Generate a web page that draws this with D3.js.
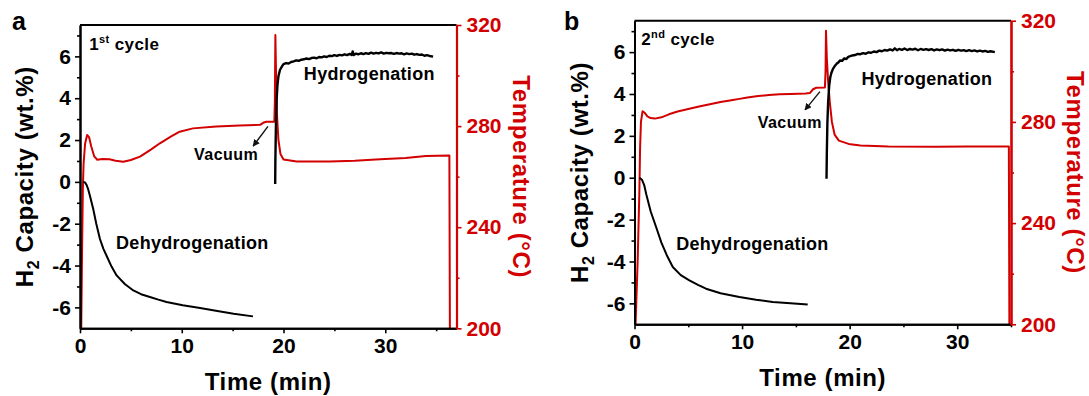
<!DOCTYPE html>
<html>
<head>
<meta charset="utf-8">
<script src="https://cdn.jsdelivr.net/npm/d3@7"></script>
<style>
  body { margin: 0; background: #fff; }
  svg { display: block; font-family: "Liberation Sans", Arial, sans-serif; font-weight: bold; }
</style>
</head>
<body>
<svg id="chart" width="1089" height="396"></svg>
<script>
// ---- data: cycle 1 (time in min, H2 capacity in wt.%, temperature in °C) ----
const cycle1Dehyd = [[0.3,0],[0.5,-0.03],[0.65,-0.15],[0.8,-0.35],[0.98,-0.67],[1.3,-1.3],[1.6,-2.0],[1.96,-2.73],[2.3,-3.2],[2.6,-3.52],[3.1,-4.05],[3.6,-4.47],[4.4,-4.88],[5.24,-5.19],[6.0,-5.37],[6.87,-5.5],[7.7,-5.63],[8.5,-5.74],[10.1,-5.9],[11.8,-6.03],[13.5,-6.17],[15.1,-6.3],[17.0,-6.43]];
const cycle1Hyd = [[19.18,-0.1],[19.2,1.0],[19.25,2.6],[19.32,3.9],[19.4,4.6],[19.5,5.05],[19.65,5.35],[19.85,5.52],[20.0,5.63],[20.25,5.68],[20.5,5.66],[20.75,5.73],[21.0,5.76],[21.25,5.81],[21.5,5.79],[21.75,5.84],[22.0,5.86],[22.25,5.9],[22.5,5.87],[22.75,5.92],[23.0,5.94],[23.25,5.91],[23.5,5.97],[23.75,5.95],[24.0,6.0],[24.25,5.97],[24.5,6.03],[24.75,6.01],[25.0,6.06],[25.25,6.02],[25.5,6.07],[25.75,6.05],[26.0,6.1],[26.25,6.06],[26.5,6.12],[26.7,6.07],[26.8,6.24],[26.9,6.06],[27.1,6.13],[27.35,6.1],[27.6,6.15],[27.85,6.11],[28.1,6.16],[28.35,6.12],[28.6,6.18],[28.85,6.13],[29.1,6.17],[29.35,6.14],[29.6,6.19],[29.85,6.13],[30.1,6.17],[30.35,6.15],[30.6,6.16],[30.85,6.12],[31.1,6.16],[31.35,6.13],[31.6,6.15],[31.85,6.1],[32.1,6.14],[32.35,6.11],[32.6,6.13],[32.85,6.08],[33.1,6.11],[33.35,6.07],[33.6,6.09],[33.85,6.03],[34.1,6.06],[34.35,6.02],[34.7,5.99]];
const cycle1Temp = [[0.12,200],[0.2,230],[0.28,255],[0.35,265],[0.5,273],[0.7,276.5],[0.9,275.5],[1.1,272],[1.4,268],[1.7,266.7],[2.2,267],[2.9,266.9],[3.5,266.3],[4.25,265.9],[5.0,266.6],[5.9,267.9],[7.0,270.8],[7.85,273.2],[9.0,276],[9.8,277.8],[11.1,279.1],[13.4,279.8],[15.7,280.2],[17.7,280.5],[18.0,281.3],[18.3,281.7],[19.1,281.7],[19.15,290],[19.2,316],[19.27,300],[19.35,285],[19.5,274.5],[19.7,269],[20.0,266.8],[21.3,266],[24.5,266],[27.0,266.3],[29.5,266.9],[32.0,267.4],[34.0,268.2],[36.3,268.4],[36.35,200]];

// ---- data: cycle 2 ----
const cycle2Dehyd = [[0.45,0],[0.7,-0.1],[0.9,-0.35],[1.1,-0.8],[1.5,-1.6],[2.0,-2.34],[2.5,-3.1],[3.0,-3.7],[3.56,-4.26],[4.3,-4.65],[5.1,-4.9],[5.9,-5.12],[6.65,-5.3],[8.0,-5.52],[9.75,-5.7],[11.3,-5.83],[12.85,-5.93],[14.5,-6.0],[16.1,-6.05]];
const cycle2Hyd = [[17.85,-0.05],[17.88,1.2],[17.93,2.6],[18.0,3.6],[18.1,4.4],[18.2,4.8],[18.3,5.0],[18.45,5.2],[18.6,5.32],[18.8,5.45],[18.95,5.5],[19.1,5.6],[19.3,5.58],[19.5,5.7],[19.7,5.67],[19.85,5.76],[20.0,5.8],[20.25,5.84],[20.5,5.86],[20.75,5.91],[21.0,5.9],[21.25,5.95],[21.5,5.92],[21.75,5.99],[22.0,5.97],[22.25,6.03],[22.5,6.0],[22.75,6.07],[23.0,6.04],[23.25,6.1],[23.5,6.07],[23.75,6.13],[24.0,6.08],[24.2,6.18],[24.4,6.09],[24.6,6.15],[24.85,6.11],[25.1,6.17],[25.35,6.1],[25.6,6.15],[25.85,6.12],[26.1,6.16],[26.35,6.09],[26.6,6.15],[26.85,6.11],[27.1,6.14],[27.35,6.1],[27.6,6.14],[27.85,6.08],[28.1,6.13],[28.35,6.09],[28.6,6.13],[28.85,6.07],[29.1,6.12],[29.35,6.08],[29.6,6.11],[29.85,6.06],[30.1,6.11],[30.35,6.07],[30.6,6.09],[30.85,6.05],[31.1,6.09],[31.35,6.05],[31.6,6.08],[31.85,6.03],[32.1,6.07],[32.35,6.03],[32.6,6.06],[32.85,6.01],[33.1,6.04],[33.5,6.0]];
const cycle2Temp = [[0.1,200],[0.3,226],[0.45,252],[0.52,270],[0.6,280],[0.75,284.2],[0.95,283.6],[1.2,282.2],[1.5,281.5],[1.9,281.3],[2.5,281.8],[3.2,283],[4.0,284.1],[5.0,285.1],[6.0,286.1],[7.0,287],[8.0,287.9],[9.0,288.6],[9.75,289.1],[10.5,289.6],[11.5,290.2],[12.5,290.6],[13.5,290.9],[14.5,291],[15.9,291.2],[16.3,291.4],[16.6,292.9],[16.9,293.5],[17.7,293.6],[17.76,300],[17.8,316],[17.88,305],[18.0,296],[18.15,288],[18.35,280],[18.6,275],[19.0,272.6],[19.9,271.3],[21.0,270.7],[23.6,270.3],[28.0,270.2],[31.0,270.3],[34.8,270.3],[34.85,200]];

// ---- axis ticks ----
const timeTicks = [0, 10, 20, 30];
const timeMinor = [5, 15, 25, 35];
const capTicks = [-6, -4, -2, 0, 2, 4, 6];
const capMinor = [-5, -3, -1, 1, 3, 5, 7];
const tempTicks = [200, 240, 280, 320];
const tempMinor = [220, 260, 300];
const capDomain = [-7, 7.5];
const tempDomain = [200, 320];

const RED = "#d20000";
const svg = d3.select("#chart");

const defs = svg.append("defs");
defs.append("marker")
  .attr("id", "arrowHead")
  .attr("viewBox", "0 0 10 10")
  .attr("refX", 9).attr("refY", 5)
  .attr("markerWidth", 5).attr("markerHeight", 5)
  .attr("markerUnits", "strokeWidth")
  .attr("orient", "auto")
  .append("path").attr("d", "M0,0 L10,5 L0,10 z").attr("fill", "#111");

const panels = [
  { letter: "a", ordinal: "st", cycleNum: "1", tMax: 37, left: 80, right: 456.5, top: 25, bottom: 328.3,
    dehyd: cycle1Dehyd, hyd: cycle1Hyd, temp: cycle1Temp,
    cycleAt: [0.9, 6.29], dehydAt: [3.54, -3.2], hydAt: [22.0, 4.89], vacAt: [11.2, 1.03],
    arrowFrom: [18.47, 2.65], arrowTo: [17.02, 1.71], letterX: 12 },
  { letter: "b", ordinal: "nd", cycleNum: "2", tMax: 35, left: 634.5, right: 1011, top: 20.7, bottom: 324.3,
    dehyd: cycle2Dehyd, hyd: cycle2Hyd, temp: cycle2Temp,
    cycleAt: [0.62, 6.32], dehydAt: [3.87, -3.43], hydAt: [21.1, 4.43], vacAt: [11.45, 2.38],
    arrowFrom: [17.24, 4.11], arrowTo: [15.85, 3.24], letterX: 564 }
];

const hyphen = d => (d < 0 ? "-" + Math.abs(d) : String(d));

function styleAxis(sel, color, width) {
  sel.select(".domain").attr("stroke", color).attr("stroke-width", width);
  sel.selectAll(".tick line").attr("stroke", color).attr("stroke-width", 1.6);
  sel.selectAll(".tick text").attr("fill", color).attr("font-size", 21)
    .attr("font-family", '"Liberation Sans", Arial, sans-serif').attr("font-weight", "bold");
}

panels.forEach(p => {
  const g = svg.append("g");
  const x = d3.scaleLinear().domain([0, p.tMax]).range([p.left, p.right]);
  const yL = d3.scaleLinear().domain(capDomain).range([p.bottom, p.top]);
  const yR = d3.scaleLinear().domain(tempDomain).range([p.bottom, p.top]);

  const capLine = d3.line().x(d => x(d[0])).y(d => yL(d[1]));
  const tempLine = d3.line().x(d => x(d[0])).y(d => yR(d[1]));

  // temperature trace (right axis)
  g.append("path").datum(p.temp).attr("d", tempLine)
    .attr("fill", "none").attr("stroke", RED).attr("stroke-width", 2).attr("stroke-linejoin", "round");
  // hydrogen capacity traces (left axis)
  g.append("path").datum(p.dehyd).attr("d", capLine)
    .attr("fill", "none").attr("stroke", "#000").attr("stroke-width", 2).attr("stroke-linejoin", "round");
  g.append("path").datum(p.hyd).attr("d", capLine)
    .attr("fill", "none").attr("stroke", "#000").attr("stroke-width", 2.4).attr("stroke-linejoin", "round");

  // frame top
  g.append("line").attr("x1", p.left).attr("x2", p.right).attr("y1", p.top).attr("y2", p.top)
    .attr("stroke", "#000").attr("stroke-width", 2);

  // bottom axis
  const xMin = g.append("g").attr("transform", `translate(0,${p.bottom})`)
    .call(d3.axisBottom(x).tickValues(timeMinor.filter(v => v <= p.tMax)).tickSize(3).tickSizeOuter(0).tickFormat(""));
  styleAxis(xMin, "#000", 2);
  const xAx = g.append("g").attr("transform", `translate(0,${p.bottom})`)
    .call(d3.axisBottom(x).tickValues(timeTicks).tickSize(5).tickSizeOuter(0).tickPadding(5).tickFormat(d3.format("d")));
  styleAxis(xAx, "#000", 2);

  // left axis
  const yMin = g.append("g").attr("transform", `translate(${p.left},0)`)
    .call(d3.axisLeft(yL).tickValues(capMinor).tickSize(3).tickSizeOuter(0).tickFormat(""));
  styleAxis(yMin, "#000", 2);
  const yAx = g.append("g").attr("transform", `translate(${p.left},0)`)
    .call(d3.axisLeft(yL).tickValues(capTicks).tickSize(5).tickSizeOuter(0).tickPadding(4).tickFormat(hyphen));
  styleAxis(yAx, "#000", 2);

  // right axis
  const rMin = g.append("g").attr("transform", `translate(${p.right},0)`)
    .call(d3.axisRight(yR).tickValues(tempMinor).tickSize(3).tickSizeOuter(0).tickFormat(""));
  styleAxis(rMin, RED, 2);
  const rAx = g.append("g").attr("transform", `translate(${p.right},0)`)
    .call(d3.axisRight(yR).tickValues(tempTicks).tickSize(5).tickSizeOuter(0).tickPadding(5).tickFormat(d3.format("d")));
  styleAxis(rAx, RED, 2.2);

  const midY = (p.top + p.bottom) / 2;
  const midX = (p.left + p.right) / 2;

  // axis titles
  g.append("text").attr("x", midX).attr("y", p.bottom + 62)
    .attr("text-anchor", "middle").attr("font-size", 24).attr("letter-spacing", 0.6)
    .text("Time (min)");

  const lt = g.append("text").attr("transform", `translate(${p.left - 47},${midY}) rotate(-90)`)
    .attr("text-anchor", "middle").attr("font-size", 24).attr("letter-spacing", 0.6);
  lt.append("tspan").text("H");
  lt.append("tspan").attr("font-size", 16).attr("dy", 6).text("2");
  lt.append("tspan").attr("dy", -6).text(" Capacity (wt.%)");

  g.append("text").attr("transform", `translate(${p.right + 56},${midY}) rotate(90)`)
    .attr("text-anchor", "middle").attr("font-size", 24).attr("letter-spacing", 0.6).attr("fill", RED)
    .text("Temperature (°C)");

  // panel letter
  svg.append("text").attr("x", p.letterX).attr("y", 30).attr("font-size", 25).text(p.letter);

  // annotations
  const ct = g.append("text").attr("x", x(p.cycleAt[0])).attr("y", yL(p.cycleAt[1]))
    .attr("font-size", 17).attr("letter-spacing", 0.4);
  ct.append("tspan").text(p.cycleNum);
  ct.append("tspan").attr("font-size", 11).attr("dy", -7).text(p.ordinal);
  ct.append("tspan").attr("dy", 7).text(" cycle");

  g.append("text").attr("x", x(p.dehydAt[0])).attr("y", yL(p.dehydAt[1]))
    .attr("font-size", 18).attr("letter-spacing", 0.3).text("Dehydrogenation");
  g.append("text").attr("x", x(p.hydAt[0])).attr("y", yL(p.hydAt[1]))
    .attr("font-size", 18).attr("letter-spacing", 0.3).text("Hydrogenation");
  g.append("text").attr("x", x(p.vacAt[0])).attr("y", yL(p.vacAt[1]))
    .attr("font-size", 16).attr("letter-spacing", 0.5).text("Vacuum");

  g.append("line")
    .attr("x1", x(p.arrowFrom[0])).attr("y1", yL(p.arrowFrom[1]))
    .attr("x2", x(p.arrowTo[0])).attr("y2", yL(p.arrowTo[1]))
    .attr("stroke", "#111").attr("stroke-width", 1.4)
    .attr("marker-end", "url(#arrowHead)");
});
</script>
</body>
</html>
